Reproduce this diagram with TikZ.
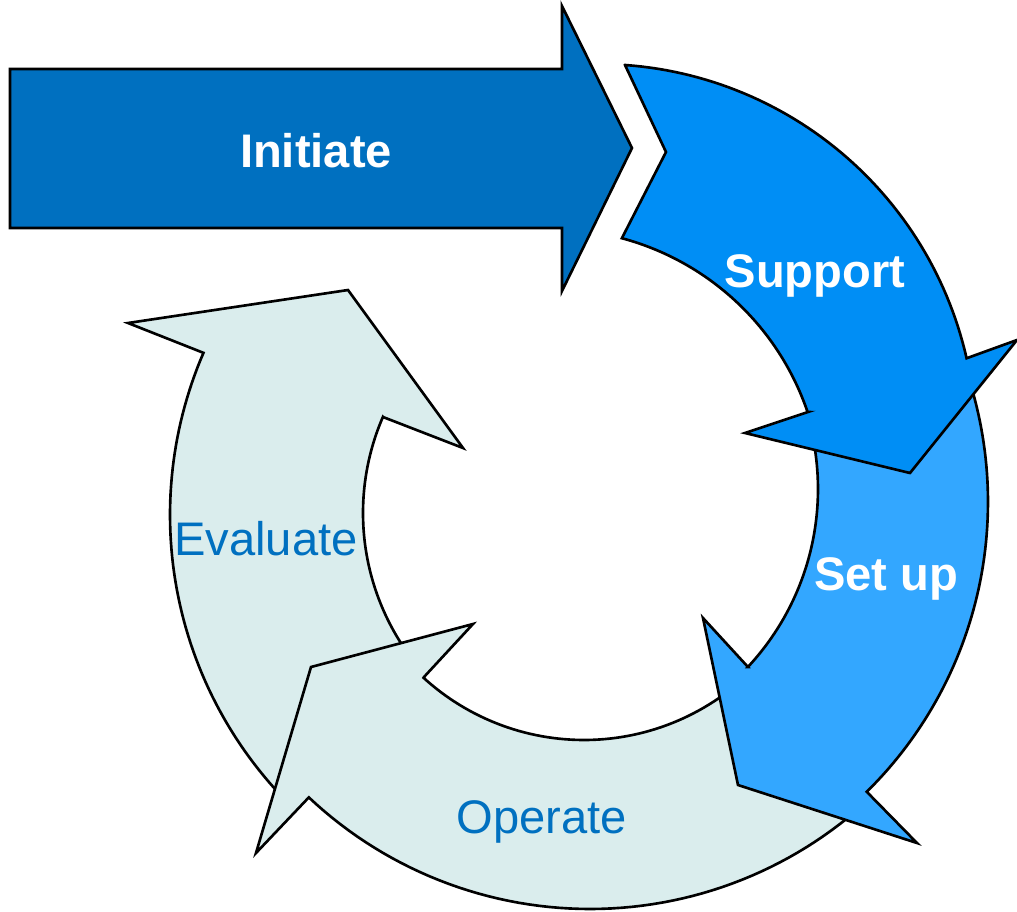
\documentclass[tikz,border=0pt]{standalone}
\usepackage{fontspec}
\setmainfont{Liberation Sans}
\usepackage{tikz}
\definecolor{initblue}{RGB}{0,112,192}
\definecolor{supportblue}{RGB}{0,142,245}
\definecolor{setupblue}{RGB}{51,167,255}
\definecolor{paleteal}{RGB}{218,237,237}
\tikzset{
	outline/.style={draw=black, line width=0.75pt, line join=miter},
	initarrow/.style={outline, fill=initblue},
	supportarrow/.style={outline, fill=supportblue},
	setuparrow/.style={outline, fill=setupblue},
	ringarrow/.style={outline, fill=paleteal},
	boldlabel/.style={anchor=base, text=white, font=\fontsize{13.4pt}{16pt}\selectfont\bfseries},
	plainlabel/.style={anchor=base, text=initblue, font=\fontsize{13.4pt}{16pt}\selectfont}
}

\begin{document}
\begin{tikzpicture}[x=0.01cm, y=-0.01cm, samples=60]
			%%%%% START %%%%%
			\useasboundingbox (0,0) rectangle (1017,911);
			
			% evaluate, its tail sits under operate
			\draw[ringarrow] plot[domain=137:203.3] ({580+410*cos(\x)},{515+410*sin(\x)})
				-- (128,323) -- (348,290) -- (463,448) -- (383,417)
				-- plot[domain=203.4:140] ({605+242*cos(\x)},{513+242*sin(\x)}) -- cycle;
			
			% operate
			\draw[ringarrow] plot[domain=48:133.3] ({590+410*cos(\x)},{499+410*sin(\x)})
				-- (256,853) -- (311,667) -- (473,624) -- (424,677)
				-- plot[domain=132.4:50] ({584+238*cos(\x)},{502+238*sin(\x)}) -- cycle;
			
			% set up
			\draw[setuparrow] plot[domain=-18:45.4] ({581+407*cos(\x)},{502+407*sin(\x)})
				-- (917,843) -- (738,785) -- (703,618) -- (748,667)
				-- plot[domain=43:-12] ({557+261*cos(\x)},{489+261*sin(\x)}) -- cycle;
			
			% support
			\draw[supportarrow] (666,152) -- (625,65)
				-- plot[domain=-85.9:-12.8] ({598+378*cos(\x)},{442+378*sin(\x)})
				-- (1017,340) -- (910,473) -- (745,433) -- (808,412)
				-- plot[domain=-18.8:-75] ({552+270*cos(\x)},{499+270*sin(\x)}) -- cycle;
			
			% initiate
			\draw[initarrow] (10,69) -- (562,69) -- (562,6) -- (632,148) -- (562,291) -- (562,228) -- (10,228) -- cycle;
			
			\node[boldlabel] (initiate) at (316,167) {Initiate};
			\node[boldlabel] (support) at (815,287) {Support};
			\node[boldlabel] (setup) at (886,590) {Set up};
			\node[plainlabel] (operate) at (542,833) {Operate};
			\node[plainlabel] (evaluate) at (266,555) {Evaluate};
			%%%%% END %%%%%
\end{tikzpicture}
\end{document}
